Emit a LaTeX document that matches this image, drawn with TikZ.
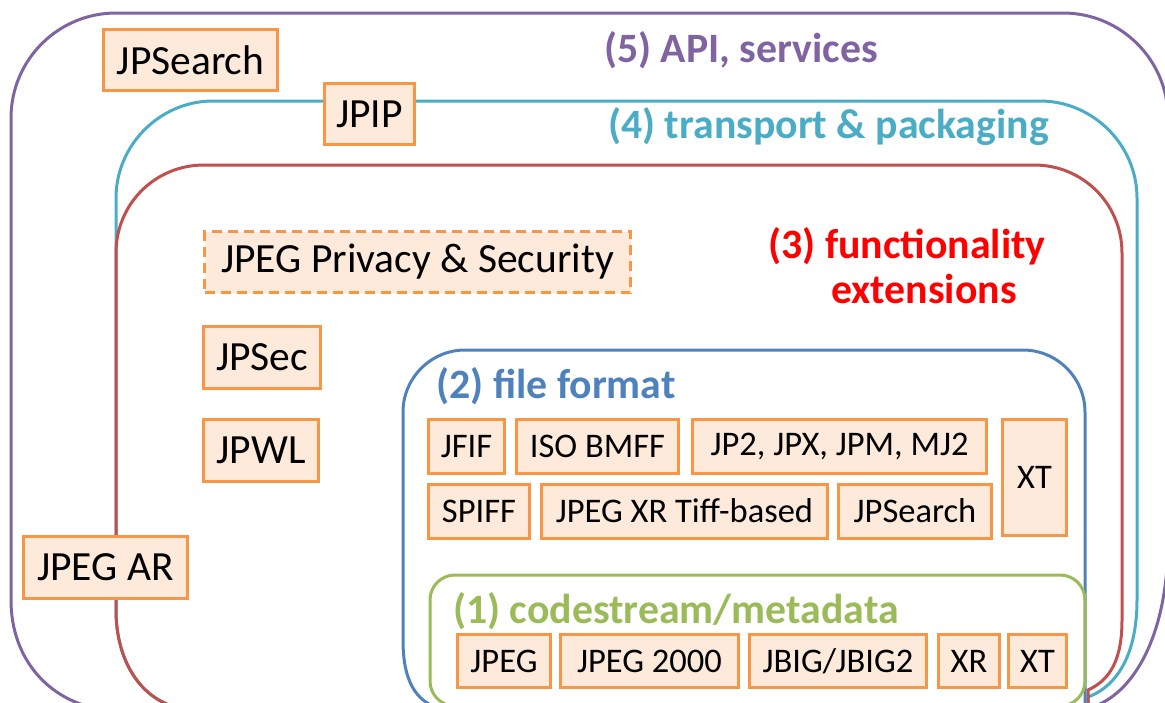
\documentclass[tikz,border=0pt]{standalone}
\usepackage{fontspec}
\setmainfont{Carlito}
\definecolor{cpurple}{HTML}{8064A2}
\definecolor{ccyan}{HTML}{4BACC6}
\definecolor{credline}{HTML}{C0504D}
\definecolor{credtext}{HTML}{FF0000}
\definecolor{cblue}{HTML}{4F81BD}
\definecolor{cgreen}{HTML}{9BBB59}
\definecolor{corange}{HTML}{F79646}
\definecolor{cfill}{HTML}{FDEADA}
\tikzset{
  layer/.style={line width=3pt},
  bigbox/.style={draw=corange, fill=cfill, line width=3pt, inner sep=0pt,
    font=\fontsize{41.5}{41.5}\selectfont, text=black},
  smallbox/.style={draw=corange, fill=cfill, line width=3pt, inner sep=0pt,
    font=\fontsize{34.5}{34.5}\selectfont, text=black},
  title/.style={font=\fontsize{41.8}{41.8}\selectfont\bfseries, anchor=base, inner sep=0pt},
}
\begin{document}
\begin{tikzpicture}[x=1pt,y=-1pt]
\useasboundingbox (0,0) rectangle (1165,702);
\begin{scope}
\clip (0,0) rectangle (1165,702);
% (5) purple
\draw[layer, draw=cpurple] (100,709) .. controls (50,701) and (11,660) .. (11,600)
  -- (11,118) .. controls (11,60) and (58,13) .. (116,13)
  -- (1063,13) .. controls (1121,13) and (1168,60) .. (1168,118)
  -- (1168,540) .. controls (1168,640) and (1130,700) .. (1085,709) -- cycle;
% (4) cyan
\draw[layer, draw=ccyan] (183,709) .. controls (140,701) and (116,660) .. (116,610)
  -- (116,198) .. controls (116,145) and (160,101) .. (213,101)
  -- (1040,101) .. controls (1093,101) and (1137,145) .. (1137,198)
  -- (1137,600) .. controls (1137,650) and (1120,685) .. (1088,697) -- (1088,709) -- cycle;
% (3) red
\draw[layer, draw=credline] (183,709) .. controls (140,701) and (116,660) .. (116,610)
  -- (116,253) .. controls (116,204) and (155,165) .. (204,165)
  -- (1034,165) .. controls (1083,165) and (1122,204) .. (1122,253)
  -- (1122,620) .. controls (1122,660) and (1110,680) .. (1088,690) -- (1088,709) -- cycle;
% (2) blue
\draw[layer, draw=cblue] (440,709) .. controls (415,701) and (403,680) .. (403,640)
  -- (403,412) .. controls (403,378) and (431,350) .. (465,350)
  -- (1023,350) .. controls (1057,350) and (1085,378) .. (1085,412)
  -- (1085,709) -- cycle;
% (1) green
\draw[layer, draw=cgreen, rounded corners=25pt] (430,575) rectangle (1085,706);
\end{scope}

% titles
\node[title, text=cpurple] (t5) at (741,62) {(5) API, services};
\node[title, text=ccyan] (t4) at (828.5,138) {(4) transport \& packaging};
\node[title, text=credtext] (t3a) at (907,258) {(3) functionality};
\node[title, text=credtext] (t3b) at (924,303) {extensions};
\node[title, text=cblue] (t2) at (556,398) {(2) file format};
\node[title, text=cgreen] (t1) at (676,623) {(1) codestream/metadata};

% outer boxes
\node[bigbox, minimum width=174pt, minimum height=61pt] (jpsearch) at (190.5,60) {JPSearch};
\node[bigbox, minimum width=90pt, minimum height=61pt] (jpip) at (369.5,114) {JPIP};
\node[bigbox, dash pattern=on 10pt off 6pt, minimum width=426pt, minimum height=61pt] (privacy) at (417.5,262) {JPEG Privacy \& Security};
\node[bigbox, minimum width=117pt, minimum height=62pt] (jpsec) at (262,357.5) {JPSec};
\node[bigbox, minimum width=115pt, minimum height=62pt] (jpwl) at (261,450.5) {JPWL};
\node[bigbox, minimum width=164pt, minimum height=62pt] (jpegar) at (105.5,567.5) {JPEG AR};

% file format boxes
\node[smallbox, minimum width=76pt, minimum height=54pt] (jfif) at (466.5,446.5) {JFIF};
\node[smallbox, minimum width=162pt, minimum height=54pt] (isobmff) at (597.5,446.5) {ISO BMFF};
\node[smallbox, minimum width=294pt, minimum height=54pt] (jp2) at (839.5,446.5) {JP2, JPX, JPM, MJ2};
\node[smallbox, minimum width=64pt, minimum height=116pt] (xtff) at (1034.5,477.5) {XT};
\node[smallbox, minimum width=101pt, minimum height=54pt] (spiff) at (479,511) {SPIFF};
\node[smallbox, minimum width=286pt, minimum height=54pt] (xrtiff) at (684.5,511) {JPEG XR Tiff-based};
\node[smallbox, minimum width=153pt, minimum height=54pt] (jpsearchff) at (915,511) {JPSearch};

% codestream boxes
\node[smallbox, minimum width=93pt, minimum height=53pt] (jpeg) at (504,661) {JPEG};
\node[smallbox, minimum width=178pt, minimum height=53pt] (jpeg2000) at (649.5,661) {JPEG 2000};
\node[smallbox, minimum width=177pt, minimum height=53pt] (jbig) at (838,661) {JBIG/JBIG2};
\node[smallbox, minimum width=61pt, minimum height=53pt] (xr) at (969,661) {XR};
\node[smallbox, minimum width=58pt, minimum height=53pt] (xtcs) at (1037.5,661) {XT};
\end{tikzpicture}
\end{document}
